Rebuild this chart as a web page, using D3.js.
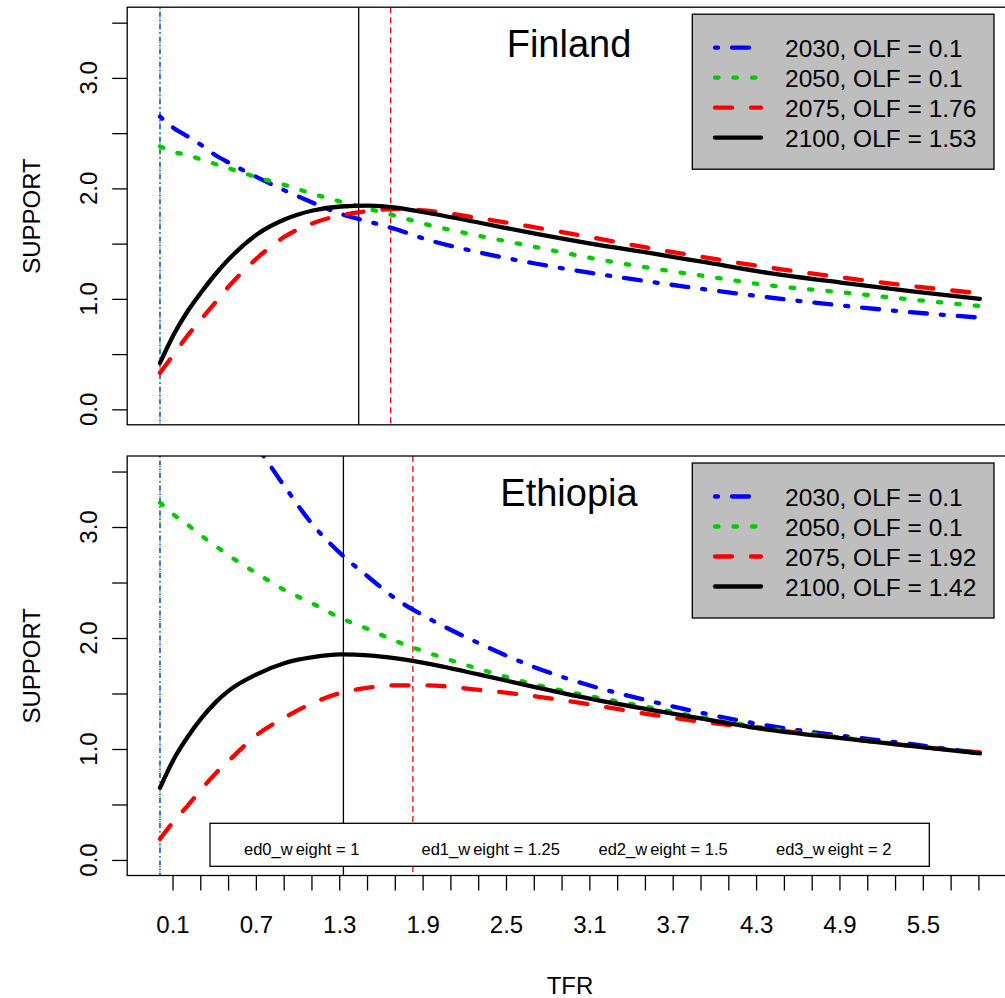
<!DOCTYPE html>
<html>
<head>
<meta charset="utf-8">
<script src="https://cdn.jsdelivr.net/npm/d3@7"></script>
<style>
  html, body { margin: 0; padding: 0; background: #ffffff; }
  svg { display: block; font-family: "Liberation Sans", Arial, Helvetica, sans-serif; }
</style>
</head>
<body>
<script>
// ---------------- DATA ----------------
const tfr = [0.1, 0.2, 0.3, 0.4, 0.5, 0.6, 0.8, 1.0, 1.2, 1.4, 1.6, 1.8, 2.0, 2.4, 2.8, 3.2, 3.6, 4.0, 4.5, 5.0, 5.5, 6.0];

const countries = ["Finland", "Ethiopia"];
const years = ["2030", "2050", "2075", "2100"];

// Finland support curves
const fin2030 = [2.65, 2.545, 2.47, 2.39, 2.30, 2.23, 2.10, 1.98, 1.87, 1.77, 1.70, 1.63, 1.545, 1.42, 1.32, 1.235, 1.16, 1.09, 1.01, 0.94, 0.88, 0.83];
const fin2050 = [2.38, 2.33, 2.30, 2.26, 2.22, 2.18, 2.10, 2.03, 1.95, 1.88, 1.815, 1.75, 1.68, 1.57, 1.47, 1.37, 1.285, 1.21, 1.12, 1.06, 0.995, 0.935];
const fin2075 = [0.33, 0.50, 0.67, 0.82, 0.97, 1.12, 1.37, 1.565, 1.685, 1.757, 1.795, 1.815, 1.80, 1.73, 1.647, 1.558, 1.465, 1.38, 1.28, 1.195, 1.117, 1.05];
const fin2100 = [0.42, 0.68, 0.89, 1.065, 1.225, 1.365, 1.585, 1.72, 1.80, 1.836, 1.844, 1.826, 1.784, 1.689, 1.59, 1.50, 1.42, 1.336, 1.23, 1.147, 1.07, 1.00];
const finOLF = [0.1, 0.1, 1.76, 1.53];

// Ethiopia support curves
const eth2030 = [5.6, 5.25, 4.92, 4.6, 4.3, 4.05, 3.72, 3.36, 3.02, 2.76, 2.55, 2.35, 2.20, 1.95, 1.735, 1.57, 1.44, 1.325, 1.205, 1.12, 1.045, 0.96];
const eth2050 = [3.22, 3.11, 3.02, 2.92, 2.83, 2.74, 2.58, 2.43, 2.31, 2.18, 2.08, 1.97, 1.88, 1.72, 1.58, 1.475, 1.38, 1.285, 1.18, 1.105, 1.03, 0.965];
const eth2075 = [0.19, 0.35, 0.49, 0.64, 0.78, 0.90, 1.13, 1.285, 1.415, 1.505, 1.552, 1.574, 1.574, 1.532, 1.475, 1.40, 1.317, 1.245, 1.175, 1.10, 1.028, 0.97];
const eth2100 = [0.65, 0.91, 1.11, 1.28, 1.42, 1.53, 1.675, 1.775, 1.827, 1.852, 1.843, 1.816, 1.775, 1.67, 1.558, 1.452, 1.36, 1.273, 1.17, 1.097, 1.027, 0.96];
const ethOLF = [0.1, 0.1, 1.92, 1.42];

// Axis ticks
const xTickLabels = [0.1, 0.3, 0.5, 0.7, 0.9, 1.1, 1.3, 1.5, 1.7, 1.9, 2.1, 2.3, 2.5, 2.7, 2.9,
                     3.1, 3.3, 3.5, 3.7, 3.9, 4.1, 4.3, 4.5, 4.7, 4.9, 5.1, 5.3, 5.5, 5.7, 5.9];
const xTickShift = 0.09;           // tick marks sit slightly right of the labelled value in the original
const yTicks = [0, 0.5, 1, 1.5, 2, 2.5, 3, 3.5];
const yTickLabels = [0, 1, 2, 3];

const weightLabels = ["ed0_weight = 1", "ed1_weight = 1.25", "ed2_weight = 1.5", "ed3_weight = 2"];

// ---------------- STYLE / LAYOUT ----------------
const W = 1005, H = 998;
const colors = ["#0000FF", "#00CD00", "#FF0000", "#000000"];
const dashThick = ["3 14 17 14", "3.5 15", "17 19", null];
const dashThin = ["1.5 3 5 3", "1.5 3.5", "6 4", null];
const lineW = 4.3;

const panels = [
  { name: countries[0], series: [fin2030, fin2050, fin2075, fin2100], olf: finOLF, top: 7.2, bottom: 424.8, weights: false },
  { name: countries[1], series: [eth2030, eth2050, eth2075, eth2100], olf: ethOLF, top: 456.0, bottom: 875.5, weights: true }
];

const x = d3.scaleLinear().domain([-0.136, 6.236]).range([127.2, 1012.6]);

const svg = d3.select("body").append("svg").attr("width", W).attr("height", H);
svg.append("rect").attr("width", W).attr("height", H).attr("fill", "#fff");

const font = "'Liberation Sans', Arial, sans-serif";

panels.forEach((p, pi) => {
  const y = d3.scaleLinear().domain([-0.14, 3.64]).range([p.bottom, p.top]);
  const g = svg.append("g");
  const clipId = "clip" + pi;
  svg.append("clipPath").attr("id", clipId)
    .append("rect")
    .attr("x", x.range()[0]).attr("y", p.top)
    .attr("width", x.range()[1] - x.range()[0]).attr("height", p.bottom - p.top);

  const plot = g.append("g").attr("clip-path", `url(#${clipId})`);

  // vertical OLF lines
  p.olf.forEach((v, i) => {
    plot.append("line")
      .attr("x1", x(v)).attr("x2", x(v))
      .attr("y1", p.top).attr("y2", p.bottom)
      .attr("stroke", colors[i]).attr("stroke-width", 1.3)
      .attr("stroke-dasharray", dashThin[i]);
  });

  // weights box (bottom panel)
  if (p.weights) {
    const bx = 210, bw = 719.3, byT = 823.3, byB = 866.3;
    g.append("rect").attr("x", bx).attr("y", byT).attr("width", bw).attr("height", byB - byT)
      .attr("fill", "#fff").attr("stroke", "#000").attr("stroke-width", 1.3);
    const starts = [244, 421.5, 598.5, 776];
    weightLabels.forEach((t, i) => {
      const k = t.indexOf("w") + 1;
      const tx = g.append("text").attr("x", starts[i]).attr("y", 854.5)
        .attr("font-size", 16.5).attr("font-family", font).attr("fill", "#000");
      tx.append("tspan").text(t.slice(0, k));
      tx.append("tspan").attr("dx", 3).text(t.slice(k));
    });
  }

  // curves
  const line = d3.line().x((d, i) => x(tfr[i])).y(d => y(d)).curve(d3.curveMonotoneX);
  p.series.forEach((s, i) => {
    plot.append("path").datum(s)
      .attr("d", line)
      .attr("fill", "none")
      .attr("stroke", colors[i]).attr("stroke-width", lineW)
      .attr("stroke-linecap", "round").attr("stroke-linejoin", "round")
      .attr("stroke-dasharray", dashThick[i]);
  });

  // border
  g.append("rect")
    .attr("x", x.range()[0]).attr("y", p.top)
    .attr("width", x.range()[1] - x.range()[0]).attr("height", p.bottom - p.top)
    .attr("fill", "none").attr("stroke", "#000").attr("stroke-width", 1.3);

  // y axis ticks
  const ya = d3.axisLeft(y).tickValues(yTicks).tickSize(15).tickFormat("");
  const yg = g.append("g").attr("transform", `translate(${x.range()[0]},0)`).call(ya);
  yg.select(".domain").remove();
  yg.selectAll(".tick line").attr("stroke", "#000").attr("stroke-width", 1.3);

  yTickLabels.forEach(v => {
    g.append("text")
      .attr("transform", `translate(97,${y(v)}) rotate(-90)`)
      .attr("text-anchor", "middle")
      .attr("font-size", 24).attr("font-family", font).attr("fill", "#000")
      .text(v.toFixed(1));
  });

  // y label
  g.append("text")
    .attr("transform", `translate(40,${(p.top + p.bottom) / 2}) rotate(-90)`)
    .attr("text-anchor", "middle")
    .attr("font-size", 24).attr("font-family", font).attr("fill", "#000")
    .text("SUPPORT");

  // title
  g.append("text")
    .attr("x", 569).attr("y", p.top + 50)
    .attr("text-anchor", "middle")
    .attr("font-size", 38).attr("font-family", font).attr("fill", "#000")
    .text(p.name);

  // legend
  const lx = 692.3, lw = 301.7, lyT = p.top + 7, lh = 155;
  const lg = g.append("g");
  lg.append("rect").attr("x", lx).attr("y", lyT).attr("width", lw).attr("height", lh)
    .attr("fill", "#BEBEBE").attr("stroke", "#000").attr("stroke-width", 1.3);
  years.forEach((yr, i) => {
    const cy = lyT + 33.5 + i * 30;
    lg.append("line").attr("x1", 715).attr("x2", 761).attr("y1", cy).attr("y2", cy)
      .attr("stroke", colors[i]).attr("stroke-width", lineW)
      .attr("stroke-linecap", "round")
      .attr("stroke-dasharray", dashThick[i]);
    lg.append("text").attr("x", 785).attr("y", cy + 9.5)
      .attr("font-size", 24.5).attr("font-family", font).attr("fill", "#000")
      .text(`${yr}, OLF = ${p.olf[i]}`);
  });
});

// x axis (below bottom panel)
const bottomY = panels[1].bottom;
const xa = d3.axisBottom(x)
  .tickValues(xTickLabels.map(v => v + xTickShift))
  .tickSize(15).tickPadding(25.5)
  .tickFormat((d, i) => i % 3 === 0 ? xTickLabels[i].toFixed(1) : "");
const xg = svg.append("g").attr("transform", `translate(0,${bottomY})`).call(xa);
xg.select(".domain").remove();
xg.selectAll(".tick line").attr("stroke", "#000").attr("stroke-width", 1.3);
xg.selectAll(".tick text").attr("font-size", 24).attr("font-family", font).attr("fill", "#000");

svg.append("text")
  .attr("x", 570).attr("y", 994)
  .attr("text-anchor", "middle")
  .attr("font-size", 24).attr("font-family", font).attr("fill", "#000")
  .text("TFR");
</script>
</body>
</html>
